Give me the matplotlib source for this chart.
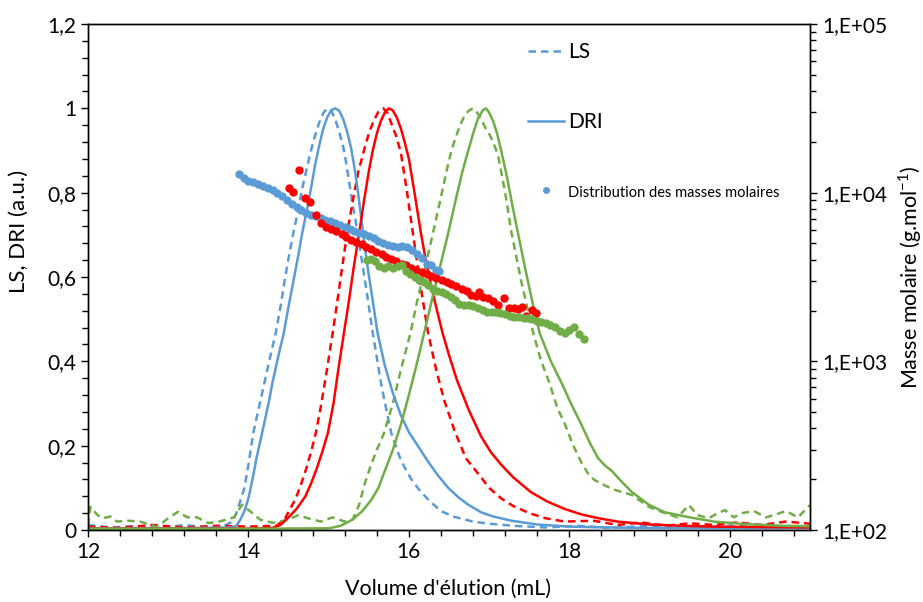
import matplotlib
matplotlib.use("Agg")
import matplotlib.pyplot as plt
from matplotlib.lines import Line2D
from matplotlib.ticker import FuncFormatter, MultipleLocator, LogLocator
import numpy as np

plt.rcParams['font.family'] = ['Lato', 'DejaVu Sans']
plt.rcParams['mathtext.fontset'] = 'custom'
plt.rcParams['mathtext.rm'] = 'Lato'

BLUE = '#5B9BD5'
RED = '#FF0000'
GREEN = '#70AD47'

# --- Elugrammes normalisés (axe gauche) ---
blue_dri_v = [12.0, 13.0, 13.8, 13.85, 13.9, 13.95, 14.0, 14.05, 14.1, 14.17, 14.25, 14.3, 14.37,
              14.44, 14.5, 14.56, 14.62, 14.67, 14.73, 14.78, 14.83, 14.88, 14.93, 14.98, 15.03,
              15.08, 15.13, 15.18, 15.23, 15.28, 15.33, 15.38, 15.43, 15.48, 15.52, 15.56, 15.61,
              15.7, 15.8, 15.9, 16.0, 16.1, 16.24, 16.36, 16.49, 16.62, 16.74, 16.9, 17.05, 17.28,
              17.6, 18.0, 18.5, 19.0, 20.0, 21.0]
blue_dri_y = [0.004, 0.004, 0.006, 0.01, 0.025, 0.045, 0.075, 0.12, 0.17, 0.23, 0.30, 0.35, 0.41,
              0.467, 0.53, 0.59, 0.65, 0.704, 0.76, 0.81, 0.865, 0.91, 0.95, 0.978, 0.995,
              1.0, 0.995, 0.975, 0.945, 0.905, 0.85, 0.78, 0.704, 0.63, 0.58, 0.53, 0.467,
              0.39, 0.325, 0.272, 0.232, 0.203, 0.162, 0.13, 0.1, 0.077, 0.06, 0.042, 0.032, 0.022,
              0.013, 0.008, 0.006, 0.005, 0.004, 0.004]

blue_ls_v = [12.0, 12.3, 12.6, 12.9, 13.2, 13.5, 13.7, 13.8, 13.85, 13.9, 13.95, 14.0, 14.06, 14.13,
             14.2, 14.27, 14.34, 14.4, 14.45, 14.5, 14.56, 14.62, 14.67, 14.73, 14.78, 14.83, 14.88,
             14.93, 14.98, 15.03, 15.08, 15.13, 15.18, 15.21, 15.26, 15.3, 15.34, 15.38, 15.47,
             15.55, 15.66, 15.78, 15.9, 16.03, 16.15, 16.28, 16.4, 16.55, 16.8, 17.0, 17.3, 17.7,
             18.1, 18.5, 19.0, 19.5, 20.0, 20.5, 21.0]
blue_ls_y = [0.012, 0.006, 0.01, 0.004, 0.012, 0.006, 0.01, 0.02, 0.04, 0.07, 0.1, 0.155, 0.23, 0.29,
             0.35, 0.41, 0.467, 0.53, 0.59, 0.645, 0.704, 0.76, 0.81, 0.86, 0.90, 0.935, 0.965,
             0.988, 1.0, 0.995, 0.975, 0.945, 0.91, 0.88, 0.82, 0.77, 0.73, 0.68, 0.57,
             0.467, 0.34, 0.23, 0.165, 0.12, 0.09, 0.065, 0.045, 0.032, 0.02, 0.015, 0.01, 0.006,
             0.01, 0.005, 0.01, 0.006, 0.01, 0.006, 0.008]

red_dri_v = [12.0, 13.0, 14.0, 14.3, 14.4, 14.5, 14.6, 14.71, 14.78, 14.85, 14.92, 14.99, 15.06,
             15.12, 15.19, 15.25, 15.31, 15.38, 15.44, 15.5, 15.55, 15.6, 15.65, 15.7, 15.75, 15.8,
             15.85, 15.9, 15.95, 16.0, 16.07, 16.15, 16.22, 16.3, 16.42, 16.5, 16.6, 16.75, 16.9,
             17.02, 17.15, 17.3, 17.52, 17.72, 17.94, 18.15, 18.36, 18.6, 19.0, 19.4, 19.8, 20.4,
             21.0]
red_dri_y = [0.003, 0.003, 0.003, 0.005, 0.012, 0.03, 0.05, 0.08, 0.11, 0.145, 0.185, 0.23, 0.3,
             0.38, 0.467, 0.54, 0.62, 0.704, 0.78, 0.85, 0.90, 0.94, 0.97, 0.99, 1.0, 0.995,
             0.978, 0.952, 0.918, 0.88, 0.8, 0.704, 0.63, 0.56, 0.467, 0.415, 0.355, 0.283, 0.222,
             0.185, 0.155, 0.125, 0.09, 0.068, 0.05, 0.037, 0.028, 0.02, 0.013, 0.01, 0.008, 0.007,
             0.006]

red_ls_v = [12.0, 12.4, 12.8, 13.2, 13.6, 14.0, 14.35, 14.45, 14.52, 14.59, 14.65, 14.72, 14.78,
            14.84, 14.9, 14.97, 15.05, 15.11, 15.17, 15.23, 15.3, 15.37, 15.44, 15.5, 15.56, 15.62,
            15.68, 15.73, 15.78, 15.84, 15.9, 15.97, 16.05, 16.14, 16.24, 16.34, 16.44, 16.57,
            16.71, 16.9, 17.0, 17.15, 17.3, 17.5, 17.7, 17.94, 18.3, 18.6, 18.9, 19.2, 19.5, 19.8,
            20.1, 20.4, 20.7, 21.0]
red_ls_y = [0.008, 0.005, 0.012, 0.006, 0.01, 0.008, 0.01, 0.025, 0.05, 0.075, 0.105, 0.145, 0.185,
            0.23, 0.29, 0.37, 0.467, 0.545, 0.625, 0.704, 0.78, 0.85, 0.90, 0.94, 0.97, 0.992,
            1.0, 0.99, 0.965, 0.935, 0.895, 0.81, 0.704, 0.585, 0.467, 0.38, 0.308, 0.235,
            0.17, 0.125, 0.1, 0.075, 0.057, 0.04, 0.028, 0.02, 0.022, 0.012, 0.018, 0.01, 0.016,
            0.012, 0.018, 0.012, 0.02, 0.015]

green_dri_v = [12.0, 13.0, 14.0, 15.0, 15.15, 15.3, 15.42, 15.53, 15.62, 15.7, 15.8, 15.9, 16.0,
               16.1, 16.19, 16.28, 16.37, 16.49, 16.58, 16.66, 16.74, 16.8, 16.86, 16.92, 16.96,
               17.0, 17.05, 17.1, 17.15, 17.22, 17.29, 17.36, 17.45, 17.54, 17.63, 17.77, 17.9,
               18.02, 18.15, 18.26, 18.36, 18.45, 18.53, 18.65, 18.78, 18.99, 19.19, 19.5, 19.8,
               20.2, 20.65, 21.0]
green_dri_y = [0.003, 0.003, 0.003, 0.004, 0.01, 0.025, 0.045, 0.071, 0.1, 0.14, 0.19, 0.25, 0.32,
               0.395, 0.467, 0.54, 0.61, 0.704, 0.78, 0.845, 0.90, 0.94, 0.975, 0.995, 1.0,
               0.99, 0.97, 0.94, 0.90, 0.84, 0.77, 0.704, 0.62, 0.54, 0.467, 0.4, 0.35,
               0.3, 0.25, 0.205, 0.17, 0.152, 0.14, 0.115, 0.09, 0.06, 0.042, 0.03, 0.02,
               0.014, 0.01, 0.009]

green_ls_v = [12.0, 12.03, 12.12, 12.19, 12.28, 12.36, 12.5, 12.65, 12.86, 13.0, 13.12, 13.24, 13.36,
              13.49, 13.6, 13.71, 13.82, 13.92, 14.03, 14.15, 14.31, 14.49, 14.62, 14.74, 14.9,
              15.05, 15.2, 15.3, 15.38, 15.45, 15.52, 15.6, 15.69, 15.8, 15.9, 16.02, 16.1, 16.2,
              16.3, 16.4, 16.48, 16.53, 16.6, 16.65, 16.7, 16.75, 16.8, 16.85, 16.9, 16.95, 17.0,
              17.05, 17.11, 17.2, 17.28, 17.4, 17.55, 17.65, 17.75, 17.85, 17.94, 18.05, 18.15,
              18.23, 18.31, 18.45, 18.57, 18.78, 18.99, 19.19, 19.35, 19.49, 19.6, 19.74, 19.85,
              19.94, 20.05, 20.15, 20.3, 20.45, 20.56, 20.7, 20.85, 21.0]
green_ls_y = [0.01, 0.055, 0.035, 0.028, 0.032, 0.02, 0.022, 0.02, 0.007, 0.028, 0.043, 0.03, 0.03,
              0.017, 0.018, 0.024, 0.03, 0.06, 0.043, 0.024, 0.017, 0.024, 0.035, 0.028, 0.02,
              0.03, 0.02, 0.025, 0.06, 0.11, 0.15, 0.19, 0.23, 0.3, 0.38, 0.467, 0.54, 0.62,
              0.704, 0.79, 0.86, 0.90, 0.94, 0.965, 0.985, 0.995, 1.0, 0.99, 0.975, 0.955, 0.94,
              0.92, 0.89, 0.8, 0.704, 0.59, 0.467, 0.4, 0.35, 0.29, 0.253, 0.2, 0.16,
              0.135, 0.119, 0.105, 0.095, 0.083, 0.055, 0.04, 0.03, 0.059, 0.035, 0.028, 0.04,
              0.047, 0.03, 0.04, 0.045, 0.03, 0.036, 0.045, 0.03, 0.059]

# --- Masses molaires (axe droit, g/mol) ---
blue_mm_v = [13.88, 13.94, 14.0, 14.06, 14.12, 14.18, 14.24, 14.3, 14.36, 14.42, 14.48, 14.54,
             14.6, 14.66, 14.72, 14.78, 14.84, 14.9, 14.96, 15.02, 15.08, 15.14, 15.2, 15.26,
             15.32, 15.38, 15.44, 15.5, 15.56, 15.62, 15.68, 15.74, 15.8, 15.86, 15.92, 15.98,
             16.04, 16.1, 16.16, 16.22, 16.28, 16.34, 16.38]
blue_mm = [12900, 12300, 11800, 11500, 11200, 11000, 10700, 10400, 10000, 9500, 9000, 8600,
           8200, 7900, 7600, 7400, 7250, 7050, 6900, 6750, 6600, 6450, 6250, 6100,
           5950, 5800, 5650, 5500, 5350, 5200, 5050, 4900, 4800, 4780, 4800, 4750,
           4550, 4350, 4100, 3800, 3700, 3500, 3450]

red_mm_v = [14.5, 14.56, 14.63, 14.7, 14.77, 14.84, 14.91, 14.97, 15.03, 15.09, 15.16, 15.22, 15.28,
            15.34, 15.41, 15.47, 15.53, 15.59, 15.66, 15.72, 15.78, 15.84, 15.91, 15.97, 16.03,
            16.09, 16.16, 16.22, 16.28, 16.34, 16.41, 16.47, 16.53, 16.59, 16.66, 16.72, 16.78,
            16.84, 16.88, 16.93, 16.99, 17.05, 17.11, 17.19, 17.25, 17.31, 17.36, 17.41, 17.46,
            17.53, 17.59]
red_mm = [10700, 10100, 13600, 9300, 8800, 7400, 6600, 6300, 6100, 5900, 5700, 5450, 5250,
          5100, 4950, 4780, 4620, 4450, 4300, 4170, 4050, 3930, 3800, 3700, 3600,
          3500, 3400, 3300, 3220, 3130, 3050, 2950, 2870, 2780, 2700, 2620, 2480,
          2450, 2580, 2420, 2360, 2280, 2160, 2370, 2070, 2060, 2040, 2090, 1850,
          2010, 1940]

green_mm_v = [15.48, 15.53, 15.58, 15.63, 15.69, 15.74, 15.8, 15.86, 15.91, 15.97, 16.02, 16.08,
              16.13, 16.19, 16.24, 16.3, 16.35, 16.41, 16.46, 16.52, 16.58, 16.63, 16.69, 16.75,
              16.8, 16.86, 16.92, 16.97, 17.03, 17.09, 17.14, 17.2, 17.26, 17.31, 17.37, 17.43,
              17.48, 17.54, 17.6, 17.65, 17.71, 17.76, 17.82, 17.88, 17.94, 18.0, 18.06, 18.12,
              18.18]
green_mm = [4000, 4050, 3950, 3650, 3600, 3650, 3600, 3650, 3700, 3450, 3300, 3150,
            3050, 2950, 2850, 2700, 2620, 2580, 2520, 2400, 2300, 2200, 2150, 2160,
            2120, 2080, 2020, 1970, 1960, 1950, 1940, 1900, 1850, 1820, 1830, 1810,
            1810, 1780, 1730, 1710, 1680, 1640, 1600, 1520, 1470, 1540, 1600, 1450,
            1350]

fig = plt.figure(figsize=(9.23, 6.02), dpi=100)
ax = fig.add_axes([88 / 923, 72 / 602, 722 / 923, 506 / 602])

dash = (0, (3, 2))
lw = 1.8
ax.plot(blue_ls_v, blue_ls_y, color=BLUE, lw=lw, ls=dash)
ax.plot(red_ls_v, red_ls_y, color=RED, lw=lw, ls=dash)
ax.plot(green_ls_v, green_ls_y, color=GREEN, lw=lw, ls=dash)
ax.plot(blue_dri_v, blue_dri_y, color=BLUE, lw=lw)
ax.plot(red_dri_v, red_dri_y, color=RED, lw=lw)
ax.plot(green_dri_v, green_dri_y, color=GREEN, lw=lw)

ax.set_xlim(12, 21)
ax.set_ylim(0, 1.2)
ax.set_xticks([12, 14, 16, 18, 20])
ax.xaxis.set_minor_locator(MultipleLocator(0.4))
ax.yaxis.set_major_locator(MultipleLocator(0.2))
ax.yaxis.set_minor_locator(MultipleLocator(0.04))
ax.yaxis.set_major_formatter(FuncFormatter(lambda v, p: f"{v:g}".replace('.', ',')))
ax.tick_params(axis='both', which='major', labelsize=15, length=5, width=1, direction='out')
ax.tick_params(axis='both', which='minor', length=4, width=1, direction='out')
ax.set_xlabel("Volume d'élution (mL)", fontsize=15.5)
ax.xaxis.set_label_coords(0.4986, -0.097)
ax.set_ylabel("LS, DRI (a.u.)", fontsize=16)
ax.yaxis.set_label_coords(-0.082, 0.59)

ax2 = ax.twinx()
ax2.set_yscale('log')
ax2.set_ylim(1e2, 1e5)
ax2.plot(blue_mm_v, blue_mm, 'o', color=BLUE, ms=6, mec='none')
ax2.plot(red_mm_v, red_mm, 'o', color=RED, ms=6, mec='none')
ax2.plot(green_mm_v, green_mm, 'o', color=GREEN, ms=6, mec='none')
ax2.yaxis.set_major_locator(LogLocator(base=10, numticks=10))
ax2.yaxis.set_minor_locator(LogLocator(base=10, subs=np.arange(2, 10), numticks=10))
ax2.yaxis.set_major_formatter(FuncFormatter(lambda v, p: "1,E+%02d" % round(np.log10(v))))
ax2.tick_params(axis='y', which='major', labelsize=15, length=5, width=1, direction='out')
ax2.tick_params(axis='y', which='minor', length=4, width=1, direction='out', labelright=False)
ax2.set_ylabel("Masse molaire (g.mol$^{-1}$)", fontsize=15.5)
ax2.yaxis.set_label_coords(1.119, 0.5)

for a in (ax, ax2):
    for s in a.spines.values():
        s.set_linewidth(1)
        s.set_color('black')

handles = [Line2D([], [], color=BLUE, lw=lw, ls=dash),
           Line2D([], [], color=BLUE, lw=lw),
           Line2D([], [], color=BLUE, ls='none', marker='o', ms=5, mec='none')]
leg = ax2.legend(handles, ['LS', 'DRI', 'Distribution des masses molaires'],
                 loc='upper left', bbox_to_anchor=((518 - 88) / 722, (530 - 32) / 506),
                 frameon=False, fontsize=15, labelspacing=2.4, handlelength=1.7,
                 handletextpad=0.2, borderpad=0)
leg.get_texts()[2].set_fontsize(10.5)

fig.savefig('out.png', dpi=100)
